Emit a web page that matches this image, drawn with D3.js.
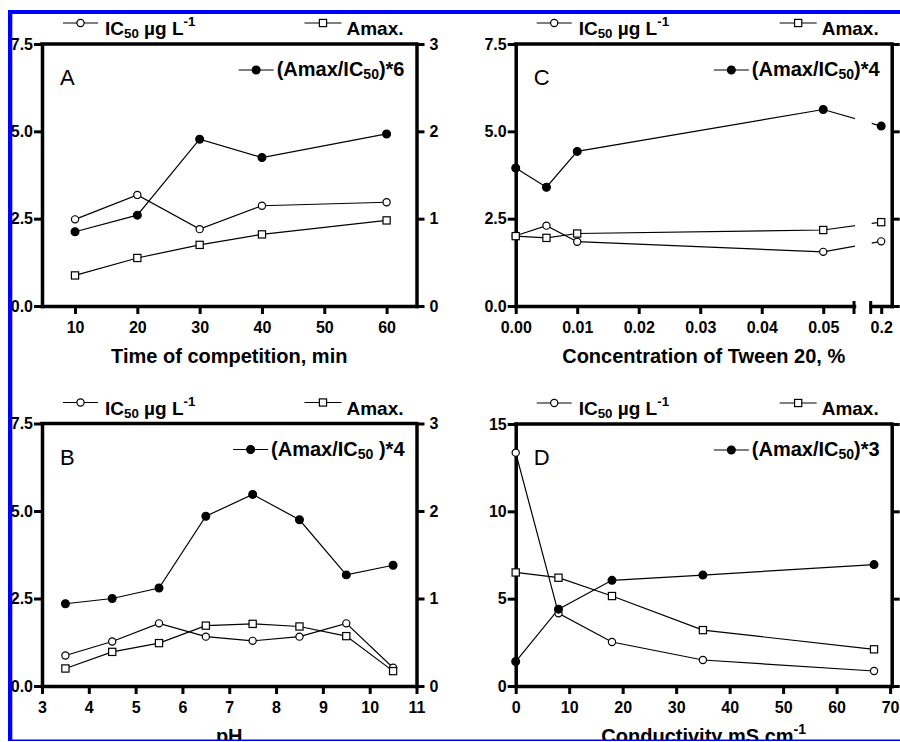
<!DOCTYPE html>
<html>
<head>
<meta charset="utf-8">
<script src="https://cdn.jsdelivr.net/npm/d3@7"></script>
<style>
  body { margin: 0; background: #fff; }
  svg { display: block; font-family: "Liberation Sans", Arial, Helvetica, sans-serif; }
</style>
</head>
<body>
<svg id="chart" width="900" height="742"></svg>
<script>
// values; Amax and the ratio belong to the right axis (0-3)
const timeMin = [10, 20, 30, 40, 60];
const timeIC50 = [2.48, 3.18, 2.2, 2.87, 2.97];
const timeAmax = [0.35, 0.55, 0.7, 0.82, 0.98];
const timeRatio = [0.85, 1.04, 1.91, 1.7, 1.97];

const phValues = [3.5, 4.5, 5.5, 6.5, 7.5, 8.5, 9.5, 10.5];
const phIC50 = [0.87, 1.27, 1.79, 1.41, 1.29, 1.41, 1.79, 0.52];
const phAmax = [0.2, 0.39, 0.49, 0.69, 0.71, 0.68, 0.57, 0.17];
const phRatio = [0.94, 1.0, 1.12, 1.94, 2.19, 1.9, 1.27, 1.38];

const tweenConc = [0, 0.005, 0.01, 0.05, 0.2];
const tweenIC50 = [2.01, 2.3, 1.84, 1.55, 1.85];
const tweenAmax = [0.8, 0.78, 0.83, 0.87, 0.96];
const tweenRatio = [1.58, 1.36, 1.77, 2.25, 2.06];

const condValues = [0, 8, 18, 35, 67];
const condIC50 = [13.36, 4.16, 2.52, 1.49, 0.86];
const condAmax = [1.3, 1.24, 1.03, 0.64, 0.42];
const condRatio = [0.28, 0.88, 1.21, 1.27, 1.39];

// tick labels
const timeTicks = [10, 20, 30, 40, 50, 60];
const phTicks = [3, 4, 5, 6, 7, 8, 9, 10, 11];
const tweenTicks = [0, 0.01, 0.02, 0.03, 0.04, 0.05];
const tweenBreakTicks = [0.2];
const condTicks = [0, 10, 20, 30, 40, 50, 60, 70];
const leftTicksSmall = [0, 2.5, 5, 7.5];
const leftTicksLarge = [0, 5, 10, 15];
const rightTicks = [0, 1, 2, 3];
const ratioFactors = [6, 4, 4, 3];

const svg = d3.select("#chart");
const font = '"Liberation Sans", Arial, Helvetica, sans-serif';

// text with sub / superscript pieces
function richText(g, x, y, parts, size, anchor) {
  const text = g
    .append("text")
    .attr("x", x)
    .attr("y", y)
    .attr("font-size", size)
    .attr("font-weight", "bold")
    .attr("font-family", font)
    .attr("text-anchor", anchor || "start")
    .attr("fill", "#000");
  let shift = 0;
  parts.forEach((p) => {
    const target = p.sub ? size * 0.17 : p.sup ? -size * 0.45 : 0;
    text
      .append("tspan")
      .attr("dy", target - shift)
      .attr("font-size", p.sub || p.sup ? size * 0.7 : size)
      .text(p.t);
    shift = target;
  });
  return text;
}

function marker(g, kind, cx, cy) {
  if (kind === "square") {
    g.append("rect")
      .attr("x", cx - 3.6)
      .attr("y", cy - 3.6)
      .attr("width", 7.2)
      .attr("height", 7.2)
      .attr("fill", "#fff")
      .attr("stroke", "#000")
      .attr("stroke-width", 1.2);
  } else {
    g.append("circle")
      .attr("cx", cx)
      .attr("cy", cy)
      .attr("r", kind === "dot" ? 3.9 : 3.6)
      .attr("fill", kind === "dot" ? "#000" : "#fff")
      .attr("stroke", "#000")
      .attr("stroke-width", 1.2);
  }
}

function legendSymbol(g, x1, x2, y, kind) {
  g.append("line")
    .attr("x1", x1)
    .attr("x2", x2)
    .attr("y1", y)
    .attr("y2", y)
    .attr("stroke", "#000")
    .attr("stroke-width", 1.2);
  marker(g, kind, (x1 + x2) / 2, y);
}

function styleAxis(axisG, showText) {
  axisG.attr("font-size", 16).attr("font-weight", "bold").attr("font-family", font);
  axisG.select(".domain").attr("stroke-width", 3.5).attr("stroke-linecap", "square");
  axisG.selectAll(".tick line").attr("stroke-width", 3);
  axisG.selectAll(".tick text").attr("fill", "#000");
  if (!showText) axisG.selectAll(".tick text").remove();
}

const panels = [
  {
    id: "A", letter: "A",
    frame: { left: 42, right: 416.5, top: 44, bottom: 306 },
    xs: timeMin, ic50: timeIC50, amax: timeAmax, ratio: timeRatio,
    xDomain: [4.7, 64.8], xTicks: timeTicks, xFormat: d3.format("d"),
    yMax: 7.5, yTicks: leftTicksSmall, yFormat: d3.format(".1f"),
    rightLabels: true, ratioLabel: [{ t: "(Amax/IC" }, { t: "50", sub: true }, { t: ")*" + ratioFactors[0] }],
    xTitle: [{ t: "Time of competition, min" }],
  },
  {
    id: "B", letter: "B",
    frame: { left: 42, right: 416.5, top: 423.5, bottom: 686 },
    xs: phValues, ic50: phIC50, amax: phAmax, ratio: phRatio,
    xDomain: [3, 11], xTicks: phTicks, xFormat: d3.format("d"),
    yMax: 7.5, yTicks: leftTicksSmall, yFormat: d3.format(".1f"),
    rightLabels: true, ratioLabel: [{ t: "(Amax/IC" }, { t: "50", sub: true }, { t: " )*" + ratioFactors[1] }],
    xTitle: [{ t: "pH" }],
  },
  {
    id: "C", letter: "C",
    frame: { left: 515.7, right: 891.7, top: 44, bottom: 306 },
    xs: tweenConc, ic50: tweenIC50, amax: tweenAmax, ratio: tweenRatio,
    xDomain: [0, 0.055], xTicks: tweenTicks, xFormat: d3.format(".2f"),
    breakAt: 854, breakStart: 870.7, breakDomain: [0.19, 0.21],
    yMax: 7.5, yTicks: leftTicksSmall, yFormat: d3.format(".1f"),
    rightLabels: false, ratioLabel: [{ t: "(Amax/IC" }, { t: "50", sub: true }, { t: ")*" + ratioFactors[2] }],
    xTitle: [{ t: "Concentration of Tween 20, %" }],
  },
  {
    id: "D", letter: "D",
    frame: { left: 515.7, right: 891.7, top: 424, bottom: 686 },
    xs: condValues, ic50: condIC50, amax: condAmax, ratio: condRatio,
    xDomain: [0, 70.3], xTicks: condTicks, xFormat: d3.format("d"),
    yMax: 15, yTicks: leftTicksLarge, yFormat: d3.format("d"),
    rightLabels: false, ratioLabel: [{ t: "(Amax/IC" }, { t: "50", sub: true }, { t: ")*" + ratioFactors[3] }],
    xTitle: [{ t: "Conductivity mS cm" }, { t: "-1", sup: true }],
  },
];

panels.forEach((p) => {
  const f = p.frame;
  const g = svg.append("g").attr("id", "panel-" + p.id);

  const xEnd = p.breakAt || f.right;
  const x = d3.scaleLinear().domain(p.xDomain).range([f.left, xEnd]);
  const xBreak = p.breakAt
    ? d3.scaleLinear().domain(p.breakDomain).range([p.breakStart, f.right])
    : null;
  const xPos = (v) => (xBreak && v > p.xDomain[1] ? xBreak(v) : x(v));
  const yLeft = d3.scaleLinear().domain([0, p.yMax]).range([f.bottom, f.top]);
  const yRight = d3.scaleLinear().domain([0, 3]).range([f.bottom, f.top]);

  // frame: top edge, left/right axes, bottom axis
  g.append("line")
    .attr("x1", f.left)
    .attr("x2", f.right)
    .attr("y1", f.top)
    .attr("y2", f.top)
    .attr("stroke", "#000")
    .attr("stroke-width", 3.5)
    .attr("stroke-linecap", "square");

  const leftAxis = g
    .append("g")
    .attr("transform", `translate(${f.left},0)`)
    .call(d3.axisLeft(yLeft).tickValues(p.yTicks).tickFormat(p.yFormat).tickSize(8).tickSizeOuter(0).tickPadding(1));
  styleAxis(leftAxis, true);

  const rightAxis = g
    .append("g")
    .attr("transform", `translate(${f.right},0)`)
    .call(d3.axisRight(yRight).tickValues(rightTicks).tickFormat(d3.format("d")).tickSize(8).tickSizeOuter(0).tickPadding(5));
  styleAxis(rightAxis, p.rightLabels);

  const bottomAxis = g
    .append("g")
    .attr("transform", `translate(0,${f.bottom})`)
    .call(d3.axisBottom(x).tickValues(p.xTicks).tickFormat(p.xFormat).tickSize(8).tickSizeOuter(0).tickPadding(8));
  styleAxis(bottomAxis, true);

  if (xBreak) {
    const breakAxis = g
      .append("g")
      .attr("transform", `translate(0,${f.bottom})`)
      .call(d3.axisBottom(xBreak).tickValues(tweenBreakTicks).tickFormat(d3.format(".1f")).tickSize(8).tickSizeOuter(0).tickPadding(8));
    styleAxis(breakAxis, true);
    // end caps either side of the break
    [p.breakAt, p.breakStart].forEach((bx) => {
      g.append("line")
        .attr("x1", bx)
        .attr("x2", bx)
        .attr("y1", f.bottom - 5)
        .attr("y2", f.bottom + 8)
        .attr("stroke", "#000")
        .attr("stroke-width", 3);
    });
    const clip = g.append("clipPath").attr("id", "clip-" + p.id);
    clip.append("rect").attr("x", f.left - 10).attr("y", f.top).attr("width", p.breakAt + 1 - (f.left - 10)).attr("height", f.bottom - f.top);
    clip.append("rect").attr("x", p.breakStart + 1).attr("y", f.top).attr("width", f.right - p.breakStart + 10).attr("height", f.bottom - f.top);
  }

  // series: IC50 on the left axis, Amax and ratio on the right axis
  const series = [
    { values: p.ic50, y: yLeft, kind: "open" },
    { values: p.amax, y: yRight, kind: "square" },
    { values: p.ratio, y: yRight, kind: "dot" },
  ];

  series.forEach((s) => {
    const line = d3
      .line()
      .x((d, i) => xPos(p.xs[i]))
      .y((d) => s.y(d));
    const path = g
      .append("path")
      .attr("d", line(s.values))
      .attr("fill", "none")
      .attr("stroke", "#000")
      .attr("stroke-width", 1.2);
    if (xBreak) path.attr("clip-path", `url(#clip-${p.id})`);
  });
  series.forEach((s) => {
    s.values.forEach((v, i) => marker(g, s.kind, xPos(p.xs[i]), s.y(v)));
  });

  // legends above the frame
  legendSymbol(g, f.left + 21, f.left + 56, f.top - 21, "open");
  richText(g, f.left + 63, f.top - 9, [{ t: "IC" }, { t: "50", sub: true }, { t: " µg L" }, { t: "-1", sup: true }], 19);
  const amaxText = richText(g, f.right - 13, f.top - 9, [{ t: "Amax." }], 19, "end");
  const amaxStart = amaxText.node().getBBox().x;
  legendSymbol(g, amaxStart - 42, amaxStart - 5, f.top - 21, "square");

  // ratio legend inside the frame
  const ratioText = richText(g, f.right - 12, f.top + 32, p.ratioLabel, 20, "end");
  const ratioStart = ratioText.node().getBBox().x;
  legendSymbol(g, ratioStart - 38, ratioStart - 3, f.top + 26, "dot");

  // panel letter
  g.append("text")
    .attr("x", f.left + 18)
    .attr("y", f.top + 41)
    .attr("font-size", 22)
    .attr("font-family", font)
    .attr("fill", "#000")
    .text(p.letter);

  // x axis title
  richText(g, (f.left + f.right) / 2, f.bottom + 57, p.xTitle, 20, "middle");
});

// blue frame of the original figure, drawn on top
svg.append("rect").attr("x", 0).attr("y", 0).attr("width", 8).attr("height", 742).attr("fill", "#fff");
svg.append("rect").attr("x", 0).attr("y", 741).attr("width", 900).attr("height", 1).attr("fill", "#fff");
svg.append("rect").attr("x", 8).attr("y", 10).attr("width", 4.3).attr("height", 731).attr("fill", "#0000ff");
svg.append("rect").attr("x", 8).attr("y", 10).attr("width", 892).attr("height", 4).attr("fill", "#0000ff");
svg.append("rect").attr("x", 8).attr("y", 739.5).attr("width", 892).attr("height", 1.5).attr("fill", "#0000ff");
</script>
</body>
</html>
